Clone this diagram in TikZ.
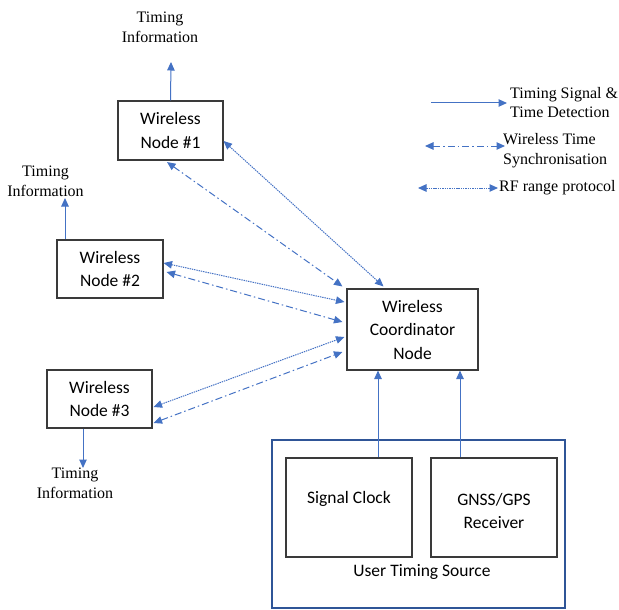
\documentclass[tikz,border=0pt]{standalone}
\usepackage{fontspec}
\setmainfont{Liberation Serif}
\newfontfamily\boxfont{Carlito}
\usetikzlibrary{arrows.meta,calc}
\definecolor{linkblue}{HTML}{4472C4}
\definecolor{frameblue}{HTML}{2F5597}
\definecolor{boxgray}{HTML}{3A3A3A}
\tikzset{
  unit/.style={draw=boxgray, line width=1.1pt, inner sep=0pt, align=center,
    font=\boxfont\fontsize{17.5}{23.5}\selectfont},
  boxtext/.style={inner sep=0pt, align=center, font=\boxfont\fontsize{17.5}{23.5}\selectfont},
  note/.style={inner sep=0pt, align=center, font=\fontsize{16}{19.5}\selectfont},
  legendtext/.style={inner sep=0pt, anchor=west, align=left, font=\fontsize{16}{19.5}\selectfont},
  signal/.style={draw=linkblue, line width=1pt, -{Triangle[length=8.5pt,width=7.5pt]}},
  sync/.style={draw=linkblue, line width=1pt, dash pattern=on 7pt off 3pt on 1.5pt off 3pt,
    {Triangle[length=8.5pt,width=7.5pt]}-{Triangle[length=8.5pt,width=7.5pt]}},
  ranging/.style={draw=linkblue, line width=1pt, dash pattern=on 1.4pt off 0.9pt,
    {Triangle[length=8.5pt,width=7.5pt]}-{Triangle[length=8.5pt,width=7.5pt]}},
}
\begin{document}
\begin{tikzpicture}[x=1pt,y=-1pt]
\useasboundingbox (0,0) rectangle (619,610);

% wireless nodes and coordinator
\node[unit, minimum width=105pt, minimum height=59pt] (n1) at (170.5,130.5) {Wireless\\Node \#1};
\node[unit, minimum width=106pt, minimum height=58pt] (n2) at (110,269) {Wireless\\Node \#2};
\node[unit, minimum width=105pt, minimum height=58pt] (n3) at (99.5,399) {Wireless\\Node \#3};
\node[unit, minimum width=131pt, minimum height=81pt] (coord) at (412.5,329.5) {Wireless\\Coordinator\\Node};

% user timing source
\node[draw=frameblue, line width=2pt, minimum width=293pt, minimum height=168pt, inner sep=0pt] (src) at (418.5,524) {};
\node[unit, minimum width=126pt, minimum height=99pt] (clock) at (349,507.5) {};
\node[unit, minimum width=126pt, minimum height=99pt] (gnss) at (494,507.5) {};
\node[boxtext] (clocktext) at (349,499) {Signal Clock};
\node[boxtext] (gnsstext) at (494,511) {GNSS/GPS\\Receiver};
\node[boxtext] (srctext) at (422,572) {User Timing Source};

% timing outputs
\node[note] (t1) at (160,27.5) {Timing\\Information};
\node[note] (t2) at (45.5,181.5) {Timing\\Information};
\node[note] (t3) at (75,483.5) {Timing\\Information};
\coordinate (t1in) at (171,62);
\coordinate (t2in) at (65,198);
\coordinate (t3in) at (83,468);
\draw[signal] (n1.north) -- (t1in);
\draw[signal] ([xshift=-45pt]n2.north) -- (t2in);
\draw[signal] ([xshift=-16.5pt]n3.south) -- (t3in);

% inputs to the coordinator
\draw[signal] (clock.north -| 378,0) -- (coord.south -| 378,0);
\draw[signal] (gnss.north -| 460,0) -- (coord.south -| 460,0);

% links between the coordinator and the wireless nodes
\draw[ranging] ([yshift=-10.5pt]n1.east) -- ([xshift=-29pt,yshift=2pt]coord.north);
\draw[sync] ([xshift=-3.5pt,yshift=-1.5pt]n1.south) -- ([xshift=-4pt,yshift=2pt]coord.north west);
\draw[ranging] ([yshift=6pt]n2.east) -- ([xshift=-2pt,yshift=27.5pt]coord.west);
\draw[sync] ([xshift=3pt,yshift=-3pt]n2.east) -- ([xshift=-4pt,yshift=7.5pt]coord.west);
\draw[ranging] ([xshift=1pt,yshift=-8pt]n3.east) -- ([xshift=-2pt,yshift=-7.5pt]coord.west);
\draw[sync] ([xshift=1pt,yshift=-24pt]n3.east) -- ([xshift=-4pt,yshift=-22.5pt]coord.west);

% legend
\coordinate (la) at (431,103);
\coordinate (lb) at (507,103);
\coordinate (lc) at (425,146);
\coordinate (ld) at (505,146);
\coordinate (le) at (418,188);
\coordinate (lf) at (498,188);
\draw[signal] (la) -- (lb);
\draw[sync] (lc) -- (ld);
\draw[ranging] (le) -- (lf);
\node[legendtext] (lt1) at (510,102.5) {Timing Signal \&\\Time Detection};
\node[legendtext] (lt2) at (503,150.5) {Wireless Time\\Synchronisation};
\node[legendtext] (lt3) at (499,188) {RF range protocol};
\end{tikzpicture}
\end{document}
